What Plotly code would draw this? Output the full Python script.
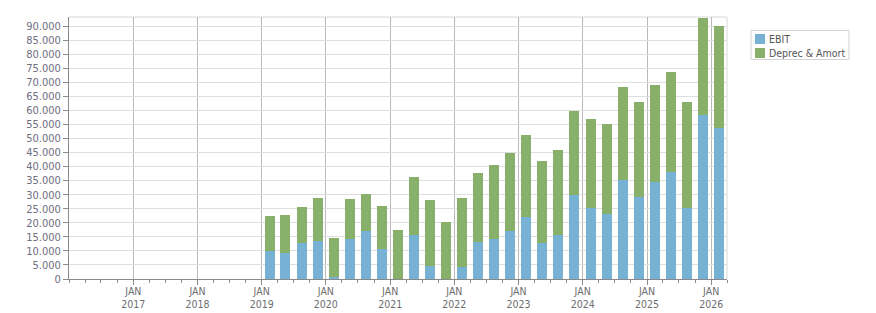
import plotly.graph_objects as go

quarters = [
    "2019-02-15", "2019-05-16", "2019-08-16", "2019-11-15",
    "2020-02-15", "2020-05-16", "2020-08-16", "2020-11-15",
    "2021-02-15", "2021-05-16", "2021-08-16", "2021-11-15",
    "2022-02-15", "2022-05-16", "2022-08-16", "2022-11-15",
    "2023-02-15", "2023-05-16", "2023-08-16", "2023-11-15",
    "2024-02-15", "2024-05-16", "2024-08-16", "2024-11-15",
    "2025-02-15", "2025-05-16", "2025-08-16", "2025-11-15",
    "2026-02-15",
]
ebit = [10000, 9400, 12900, 13600,
        800, 14100, 16900, 10800,
        0, 15700, 4700, 0,
        4400, 13300, 14300, 17200,
        22100, 12900, 15700, 30000,
        25400, 23300, 35300, 29200,
        34600, 38100, 25300, 58300,
        53800]
deprec_amort = [12500, 13500, 12800, 15300,
                13900, 14400, 13400, 15200,
                17500, 20600, 23500, 20400,
                24500, 24500, 26300, 27700,
                29200, 29100, 30300, 29800,
                31600, 31900, 33000, 33800,
                34400, 35600, 37700, 34600,
                36200]
series_names = ["EBIT", "Deprec & Amort"]
tick_years = [2017, 2018, 2019, 2020, 2021, 2022, 2023, 2024, 2025, 2026]
tick_vals = [f"{y}-01-01" for y in tick_years]
tick_text = [f"JAN<br>{y}" for y in tick_years]

BLUE = "#77B1D4"
GREEN = "#89B06A"
colors = [BLUE, GREEN]
bar_w = 57 * 86400000  # ms

W, H = 876, 313
L, R, T, B = 69, 149, 17, 34
PW, PH = W - L - R, H - T - B


def px(x):
    return (x - L) / PW


def py(y):
    return (H - B - y) / PH


fig = go.Figure()
for name, vals, col in zip(series_names, [ebit, deprec_amort], colors):
    fig.add_trace(go.Bar(x=quarters, y=vals, name=name, marker_color=col,
                         marker_line_width=0, width=bar_w))

font_main = "Tahoma, 'DejaVu Sans Condensed', 'Liberation Sans', sans-serif"

shapes = [
    dict(type="line", xref="paper", yref="paper", x0=0, x1=1, y0=1, y1=1,
         line=dict(color="#d8d8d8", width=1), layer="below"),
    dict(type="line", xref="paper", yref="paper", x0=1, x1=1, y0=0, y1=1,
         line=dict(color="#d8d8d8", width=1), layer="below"),
    # legend box
    dict(type="rect", xref="paper", yref="paper",
         x0=px(751), x1=px(849), y0=py(59.5), y1=py(30.5),
         line=dict(color="#d4d4d4", width=1), fillcolor="white"),
]
annotations = []
for i, (name, col) in enumerate(zip(series_names, colors)):
    cy = 39 + i * 14
    shapes.append(dict(type="rect", xref="paper", yref="paper",
                       x0=px(755), x1=px(765), y0=py(cy + 5), y1=py(cy - 5),
                       line=dict(width=0), fillcolor=col))
    annotations.append(dict(xref="paper", yref="paper", x=px(767), y=py(cy),
                            xanchor="left", yanchor="middle", showarrow=False,
                            text=name,
                            font=dict(family=font_main, size=10.5, color="#555555")))

fig.update_layout(
    barmode="stack",
    width=W, height=H,
    margin=dict(l=L, r=R, t=T, b=B, autoexpand=False),
    paper_bgcolor="white", plot_bgcolor="white",
    separators=",.",
    font=dict(family=font_main, size=11, color="#6e6e80"),
    showlegend=False,
    xaxis=dict(
        type="date",
        range=["2016-01-01", "2026-04-01"],
        tickmode="array", tickvals=tick_vals, ticktext=tick_text,
        showgrid=True, gridcolor="#b8b8b8", gridwidth=1,
        ticks="outside", ticklen=5, tickcolor="#8a8a8a",
        ticklabelstandoff=-3,
        showline=True, linecolor="#8a8a8a", linewidth=1,
        minor=dict(dtick="M3", tick0="2016-01-01", ticks="outside",
                   ticklen=3, tickcolor="#8a8a8a", showgrid=False),
        tickfont=dict(color="#6e6e6e", size=10.5),
        zeroline=False,
    ),
    yaxis=dict(
        range=[0, 93200],
        dtick=5000, tickformat=",d",
        showgrid=True, gridcolor="#dedede", gridwidth=1,
        ticks="outside", ticklen=5, tickcolor="#8a8a8a",
        showline=True, linecolor="#8a8a8a", linewidth=1,
        zeroline=False,
    ),
    shapes=shapes,
    annotations=annotations,
)

fig.write_html("out.html")
